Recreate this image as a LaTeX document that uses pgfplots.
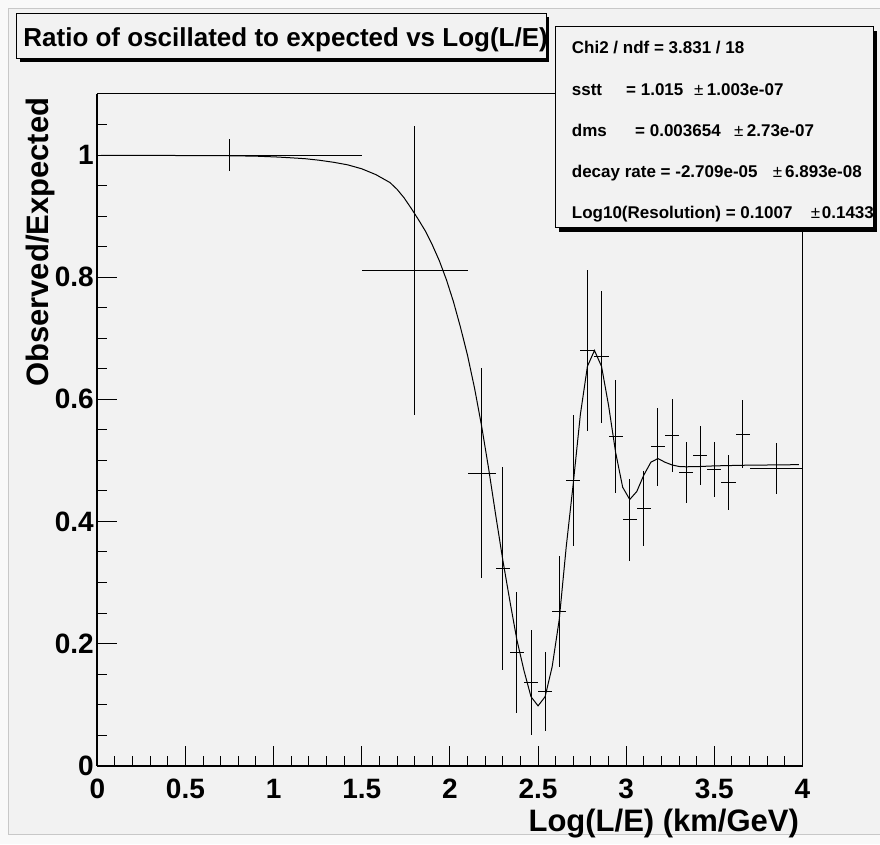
\documentclass[border=0pt]{standalone}
\usepackage{pgfplots}
\pgfplotsset{compat=1.18}
\usepackage{pgfplotstable}
\usepackage{fontspec}
\setmainfont{Liberation Sans}
\definecolor{padbg}{HTML}{F2F2F2}
\definecolor{outerbg}{HTML}{F9F9F9}
\definecolor{edge}{HTML}{C8C8C8}
\newcommand{\tickfont}{\fontsize{28}{30}\selectfont\bfseries}
\newcommand{\labfont}{\fontsize{31}{33}\selectfont\bfseries}
\newcommand{\titfont}{\fontsize{26}{28}\selectfont\bfseries}
\newcommand{\statfont}{\fontsize{17}{19}\selectfont\bfseries}

\pgfplotstableread{
x y ex ey
0.75 1.000 0.75 0.026
1.80 0.811 0.30 0.237
2.18 0.479 0.08 0.172
2.30 0.3225 0.04 0.166
2.38 0.186 0.04 0.099
2.46 0.1364 0.04 0.086
2.54 0.1213 0.04 0.0645
2.62 0.2525 0.04 0.0915
2.70 0.467 0.04 0.1075
2.78 0.680 0.04 0.1325
2.86 0.6695 0.04 0.108
2.94 0.539 0.04 0.092
3.02 0.403 0.04 0.067
3.10 0.421 0.04 0.0615
3.18 0.522 0.04 0.0645
3.26 0.541 0.04 0.0595
3.34 0.480 0.04 0.0495
3.42 0.508 0.04 0.0487
3.50 0.485 0.04 0.045
3.58 0.4634 0.04 0.045
3.66 0.543 0.04 0.056
3.85 0.487 0.15 0.042
}\ratiodata

\pgfplotstableread{
x y
0.02 0.9995
0.30 0.9994
0.54 0.9992
0.74 0.9989
0.90 0.9982
1.02 0.9968
1.10 0.9955
1.18 0.9940
1.26 0.9915
1.34 0.9882
1.42 0.9840
1.50 0.9775
1.58 0.9680
1.66 0.9550
1.70 0.9440
1.74 0.9300
1.78 0.9130
1.82 0.8950
1.86 0.8760
1.90 0.8530
1.94 0.8270
1.98 0.7960
2.02 0.7600
2.06 0.7180
2.10 0.6720
2.14 0.6180
2.18 0.5560
2.22 0.4860
2.26 0.4100
2.30 0.3370
2.34 0.2700
2.38 0.2060
2.42 0.1560
2.46 0.1130
2.50 0.0980
2.54 0.1130
2.58 0.1620
2.62 0.2390
2.66 0.3590
2.70 0.4630
2.74 0.5750
2.78 0.6540
2.82 0.6800
2.86 0.6540
2.90 0.5900
2.94 0.5130
2.98 0.4560
3.02 0.4360
3.06 0.4490
3.10 0.4760
3.14 0.4970
3.18 0.5030
3.22 0.4970
3.26 0.4925
3.30 0.4900
3.34 0.4895
3.42 0.4900
3.50 0.4910
3.66 0.4920
3.82 0.4925
3.98 0.4930
}\fitcurve

\begin{document}
\begin{tikzpicture}[x=1pt,y=1pt]
% canvas (pixel px,py -> X=px-97.3, Y=765.7-py)
\fill[outerbg] (-97.3,-78.3) rectangle (782.7,765.7);
\fill[padbg] (-89.3,-68.3) rectangle (782.7,757.7);
\draw[edge, line width=0.8pt] (782.7,757.7) -- (-89.3,757.7) -- (-89.3,-68.3) -- (782.7,-68.3);

\begin{axis}[
  scale only axis, width=705.2pt, height=671.7pt,
  xmin=0, xmax=4, ymin=0, ymax=1.1,
  axis line style={line width=1pt, black},
  tick align=inside, tick pos=left,
  xtick={0,0.5,1,1.5,2,2.5,3,3.5,4},
  xticklabels={0,0.5,1,1.5,2,2.5,3,3.5,4},
  minor xtick={0.1,0.2,0.3,0.4,0.6,0.7,0.8,0.9,1.1,1.2,1.3,1.4,1.6,1.7,1.8,1.9,2.1,2.2,2.3,2.4,2.6,2.7,2.8,2.9,3.1,3.2,3.3,3.4,3.6,3.7,3.8,3.9},
  ytick={0,0.2,0.4,0.6,0.8,1},
  yticklabels={0,0.2,0.4,0.6,0.8,1},
  minor ytick={0.05,0.1,0.15,0.25,0.3,0.35,0.45,0.5,0.55,0.65,0.7,0.75,0.85,0.9,0.95,1.05},
  major tick length=20pt, minor tick length=10pt,
  every tick/.style={black, line width=1pt},
  tick label style={font=\tickfont, text=black},
  xticklabel style={yshift=-10pt},
  xlabel={Log(L/E) (km/GeV)},
  ylabel={Observed/Expected},
  every axis x label/.style={at={(axis description cs:1,-0.0987)}, anchor=base east, font=\labfont},
  every axis y label/.style={at={(axis description cs:-0.0685,1)}, rotate=90, anchor=base east, font=\labfont},
]
\addplot[draw=none, mark=none,
  error bars/.cd, x dir=both, x explicit, y dir=both, y explicit,
  error mark=none, error bar style={draw=black, line width=1pt}]
  table[x=x, y=y, x error=ex, y error=ey] {\ratiodata};
\addplot[black, line width=1pt, mark=none, sharp plot] table[x=x, y=y] {\fitcurve};
\end{axis}
\draw[line width=2pt] (0,0) -- (705.2,0);
\draw[line width=1.6pt] (0,0) -- (0,671.7);

% title box
\fill[black] (-77.3,703.7) rectangle (451.7,748.7);
\filldraw[fill=padbg, draw=black, line width=1pt] (-80.3,706.7) rectangle (448.7,751.7);
\node[anchor=base west, inner sep=0pt, font=\titfont] at (-74.1,719.3) {Ratio of oscillated to expected vs Log(L/E)};

% stats box
\fill[black] (461.7,533.7) rectangle (779.7,734.7);
\filldraw[fill=padbg, draw=black, line width=1pt] (457.7,537.7) rectangle (775.7,738.7);
\begin{scope}
\clip (457.7,537.7) rectangle (775.2,738.7);
\begin{scope}[every node/.style={anchor=base west, inner sep=0pt, font=\statfont}]
\node at (474.4,711.7) {Chi2 / ndf = 3.831 / 18};
\node at (474.4,670.5) {sstt};
\node at (528.7,670.5) {= 1.015};
\node at (596.7,670.5) {\mdseries ±};
\node at (609.4,670.5) {1.003e-07};
\node at (474.4,629.3) {dms};
\node at (537.7,629.3) {= 0.003654};
\node at (636.7,629.3) {\mdseries ±};
\node at (649.4,629.3) {2.73e-07};
\node at (474.4,588.1) {decay rate = -2.709e-05};
\node at (675.4,588.1) {\mdseries ±};
\node at (687.7,588.1) {6.893e-08};
\node at (474.4,546.9) {Log10(Resolution) = 0.1007};
\node at (713.4,546.9) {\mdseries ±};
\node at (724.4,546.9) {0.1433};
\end{scope}
\end{scope}
\draw[black, line width=1pt] (775.7,537.7) -- (775.7,738.7);

\pgfresetboundingbox
\path (-97.3,-78.3) rectangle (782.7,765.7);
\end{tikzpicture}
\end{document}
